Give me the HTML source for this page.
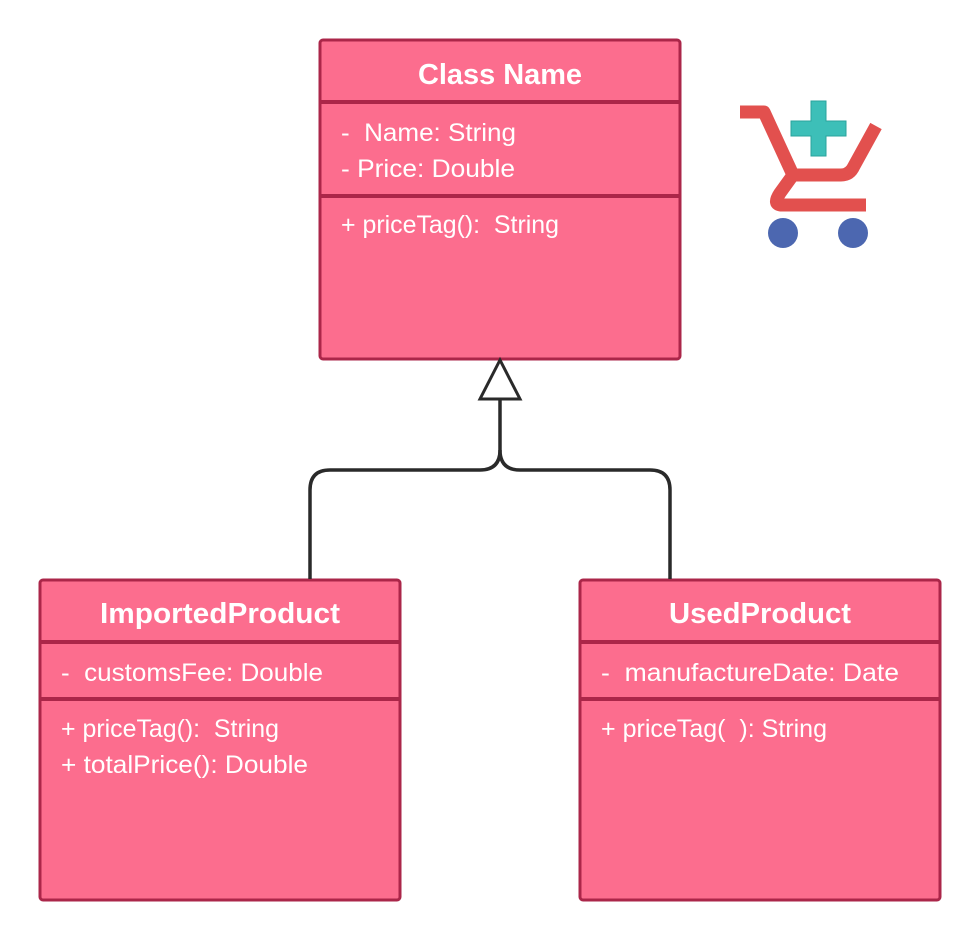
<!DOCTYPE html>
<html><head><meta charset="utf-8"><style>
html,body{margin:0;padding:0;background:#fff;}
svg{display:block;}
text{font-family:"Liberation Sans",sans-serif;fill:#fff;white-space:pre;}
.t{font-weight:bold;font-size:29px;}
.a{font-size:25px;}
</style></head><body>
<svg width="980" height="940" viewBox="0 0 980 940" xmlns="http://www.w3.org/2000/svg" xml:space="preserve">
<g fill="#fc6d8e" stroke="#ab2649" stroke-width="3">
<rect x="320" y="40" width="360" height="319" rx="3"/>
<rect x="40" y="580" width="360" height="320" rx="3"/>
<rect x="580" y="580" width="360" height="320" rx="3"/>
</g>
<g stroke="#ab2649" stroke-width="4">
<line x1="320" y1="102" x2="680" y2="102"/><line x1="320" y1="196" x2="680" y2="196"/>
<line x1="40" y1="642" x2="400" y2="642"/><line x1="40" y1="699" x2="400" y2="699"/>
<line x1="580" y1="642" x2="940" y2="642"/><line x1="580" y1="699" x2="940" y2="699"/>
</g>
<text class="t" x="418" y="84" textLength="164" lengthAdjust="spacingAndGlyphs">Class Name</text>
<text class="a" x="341" y="141" textLength="175" lengthAdjust="spacingAndGlyphs">-  Name: String</text>
<text class="a" x="341" y="177" textLength="174" lengthAdjust="spacingAndGlyphs">- Price: Double</text>
<text class="a" x="341" y="233" textLength="218" lengthAdjust="spacingAndGlyphs">+ priceTag():  String</text>
<text class="t" x="100" y="623" textLength="240" lengthAdjust="spacingAndGlyphs">ImportedProduct</text>
<text class="a" x="61" y="681" textLength="262" lengthAdjust="spacingAndGlyphs">-  customsFee: Double</text>
<text class="a" x="61" y="737" textLength="218" lengthAdjust="spacingAndGlyphs">+ priceTag():  String</text>
<text class="a" x="61" y="773" textLength="247" lengthAdjust="spacingAndGlyphs">+ totalPrice(): Double</text>
<text class="t" x="669" y="623" textLength="182" lengthAdjust="spacingAndGlyphs">UsedProduct</text>
<text class="a" x="601" y="681" textLength="298" lengthAdjust="spacingAndGlyphs">-  manufactureDate: Date</text>
<text class="a" x="601" y="737" textLength="226" lengthAdjust="spacingAndGlyphs">+ priceTag(  ): String</text>
<g fill="none" stroke="#2a2a2a" stroke-width="3.5">
<path d="M310 579 V490 Q310 470 330 470 H480 Q500 470 500 450 V400"/>
<path d="M670 579 V490 Q670 470 650 470 H520 Q500 470 500 450"/>
<polygon points="500,360 480,399 520,399" fill="#fff" stroke-width="3"/>
</g>
<path d="M740 112 H764 L793 175 L780 193 Q772 205 782 205 H866" fill="none" stroke="#e2504e" stroke-width="13" stroke-linejoin="round"/>
<path d="M793 175 H841 Q850 175 854 166 L876 126" fill="none" stroke="#e2504e" stroke-width="13"/>
<path d="M811 101 h15 v20 h20 v15 h-20 v20 h-15 v-20 h-20 v-15 h20z" fill="#3dbfb8" stroke="#2aa39c" stroke-width="1"/>
<circle cx="783" cy="233" r="15" fill="#4c67b0"/>
<circle cx="853" cy="233" r="15" fill="#4c67b0"/>
</svg>
</body></html>
